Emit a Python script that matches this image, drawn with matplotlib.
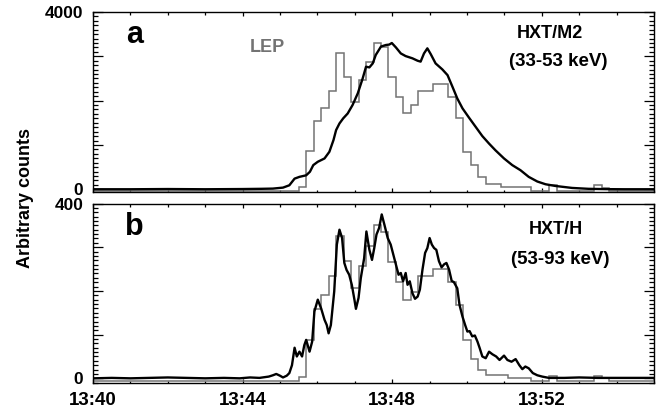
import numpy as np
import matplotlib.pyplot as plt
from matplotlib.ticker import FixedLocator, MultipleLocator

plt.rcParams['font.family'] = ['Liberation Sans', 'DejaVu Sans']
plt.rcParams['font.weight'] = 'bold'

# time axis: minutes after 13:40 UT
tick_pos = [0, 4, 8, 12]
tick_labels = ['13:40', '13:44', '13:48', '13:52']

# HXT/M2 (33-53 keV) light curve
m2_time = [0, 1.0, 2.0, 3.0, 4.0, 4.5, 4.81, 5.08, 5.25, 5.39,
           5.52, 5.70, 5.80, 5.89, 6.01, 6.19, 6.32, 6.43, 6.50, 6.59,
           6.69, 6.81, 6.94, 7.08, 7.21, 7.30, 7.39, 7.48, 7.56, 7.70,
           7.83, 7.92, 7.99, 8.10, 8.23, 8.36, 8.54, 8.68, 8.76, 8.85,
           8.94, 9.03, 9.16, 9.34, 9.48, 9.61, 9.74, 9.88, 10.05, 10.23,
           10.41, 10.59, 10.76, 10.99, 11.21, 11.43, 11.65, 11.88, 12.10, 12.36,
           12.81, 13.25, 13.70, 14.2, 15.0]
m2_counts = [0, 0, 5, 0, 5, 10, 15, 37, 90, 240,
             280, 315, 395, 545, 620, 695, 845, 1110, 1335, 1485,
             1600, 1710, 1900, 2165, 2500, 2765, 2750, 2840, 3030, 3220,
             3255, 3265, 3300, 3200, 3065, 3005, 2955, 2900, 2880, 3065,
             3180, 3050, 2840, 2705, 2575, 2315, 2050, 1825, 1620, 1410,
             1200, 1030, 880, 695, 545, 430, 280, 175, 113, 75,
             30, 10, 3, 0, 0]

# HXT/H (53-93 keV) light curve
h_time = [0, 0.5, 1.0, 1.5, 2.0, 2.5, 3.0, 3.5, 3.92, 4.2,
          4.45, 4.7, 4.81, 4.90, 5.0, 5.08, 5.18, 5.25, 5.32, 5.39,
          5.45, 5.52, 5.59, 5.65, 5.70, 5.79, 5.86, 5.92, 6.01, 6.10,
          6.19, 6.25, 6.30, 6.36, 6.45, 6.52, 6.59, 6.66, 6.72, 6.78,
          6.85, 6.92, 6.99, 7.03, 7.10, 7.16, 7.25, 7.31, 7.39, 7.46,
          7.52, 7.58, 7.65, 7.72, 7.79, 7.88, 7.96, 8.03, 8.10, 8.17,
          8.23, 8.29, 8.36, 8.41, 8.47, 8.54, 8.61, 8.68, 8.74, 8.81,
          8.88, 8.94, 9.00, 9.06, 9.12, 9.18, 9.25, 9.32, 9.39, 9.45,
          9.52, 9.59, 9.65, 9.74, 9.80, 9.88, 9.95, 10.01, 10.07, 10.14,
          10.21, 10.28, 10.34, 10.41, 10.50, 10.59, 10.68, 10.78, 10.87, 10.99,
          11.08, 11.19, 11.30, 11.40, 11.48, 11.56, 11.65, 11.76, 11.88, 12.01,
          12.19, 12.6, 13.0, 13.5, 14.0, 14.5, 15.0]
h_counts = [0, 1, 0, 1, 2, 1, 0, 1, 0, 2,
            1, 4, 7, 10, 6, 2, 6, 12, 30, 70,
            50, 61, 50, 76, 88, 61, 84, 153, 180, 160,
            134, 122, 103, 122, 199, 306, 340, 321, 264, 248,
            237, 214, 180, 159, 184, 229, 275, 336, 294, 271,
            298, 329, 344, 375, 352, 321, 306, 283, 260, 237,
            241, 222, 241, 214, 222, 195, 182, 187, 203, 249,
            287, 298, 321, 306, 298, 294, 268, 254, 261, 264,
            249, 223, 220, 206, 168, 141, 122, 107, 108, 96,
            98, 84, 69, 50, 46, 61, 55, 50, 42, 52,
            42, 38, 44, 30, 21, 27, 23, 12, 7, 4,
            1, 1, 2, 1, 1, 1, 1]

# LEP histogram, bin edges in minutes
lep_edges = [0.0, 5.5, 5.7, 5.9, 6.1, 6.3, 6.5, 6.7, 6.9, 7.1, 7.3,
             7.5, 7.7, 7.9, 8.1, 8.3, 8.5, 8.7, 8.9, 9.1, 9.3,
             9.5, 9.7, 9.9, 10.1, 10.3, 10.5, 10.7, 10.9, 11.1, 11.3,
             11.5, 11.7, 12.2, 12.4, 13.4, 13.6, 13.8, 15.0]
lep_a = [-30, 50, 865, 1545, 1825, 2220, 3080, 2525, 1975, 2465,
         2865, 3305, 3215, 2525, 2085, 1725, 1900, 2220, 2210, 2375,
         2375, 2085, 1600, 845, 545, 280, 115, 110, 60, 55,
         50, 50, -30, 90, -30, 105, 30, -30]
lep_b = [-7, 2, 88, 159, 191, 233, 325, 268, 207, 258,
         302, 350, 335, 266, 220, 180, 197, 233, 233, 249,
         249, 220, 168, 88, 44, 19, 8, 8, 8, 0,
         0, 0, -7, 6, -6, 5, 0, -6]

W, H = 664, 412
fig = plt.figure(figsize=(W / 100, H / 100), dpi=100)
ax_a = fig.add_axes([93 / W, 1 - 191.7 / H, 561 / W, 179.7 / H])
ax_b = fig.add_axes([93 / W, 1 - 382.7 / H, 561 / W, 179.2 / H])

gray = '#737373'


def style_axis(ax, ymax, ymin, ystep):
    ax.set_xlim(0, 15)
    ax.set_ylim(ymin, ymax)
    ax.xaxis.set_major_locator(FixedLocator(tick_pos))
    ax.xaxis.set_minor_locator(MultipleLocator(1))
    ax.yaxis.set_major_locator(MultipleLocator(ystep))
    ax.yaxis.set_minor_locator(MultipleLocator(ystep / 10))
    ax.set_yticks([0, ystep, 2 * ystep, 3 * ystep, ymax])
    ax.set_yticklabels(['0', '', '', '', str(ymax)])
    ax.tick_params(which='both', direction='in', top=True, right=True, width=0.9)
    ax.tick_params(axis='x', which='major', length=3.2, pad=7, labelsize=13.5)
    ax.tick_params(axis='x', which='minor', length=1.8)
    ax.tick_params(axis='y', which='major', length=7.2, pad=7, labelsize=12.5)
    ax.tick_params(axis='y', which='minor', length=3.6)
    for sp in ax.spines.values():
        sp.set_linewidth(1.0)


ax_a.stairs(lep_a, lep_edges, color=gray, lw=1.1, zorder=2)
ax_a.plot(m2_time, m2_counts, color='black', lw=1.7, zorder=3)
style_axis(ax_a, 4000, -55, 1000)
ax_a.set_xticklabels([])

ax_b.stairs(lep_b, lep_edges, color=gray, lw=1.1, zorder=2)
ax_b.plot(h_time, h_counts, color='black', lw=1.7, zorder=3)
style_axis(ax_b, 400, -10, 100)
ax_b.set_xticklabels(tick_labels)


def put(x, y, s, **kw):
    fig.text(x / W, 1 - y / H, s, ha='center', va='center', **kw)


put(135, 35, 'a', fontsize=22)
put(134, 227, 'b', fontsize=22)
put(267, 48, 'LEP', fontsize=13, color=gray)
put(550, 33, 'HXT/M2', fontsize=13)
put(558, 62, '(33-53 keV)', fontsize=13.5)
put(556, 230, 'HXT/H', fontsize=13)
put(560, 260, '(53-93 keV)', fontsize=13.5)
put(25, 198, 'Arbitrary counts', fontsize=13, rotation=90)

fig.savefig('out.png', dpi=100)
